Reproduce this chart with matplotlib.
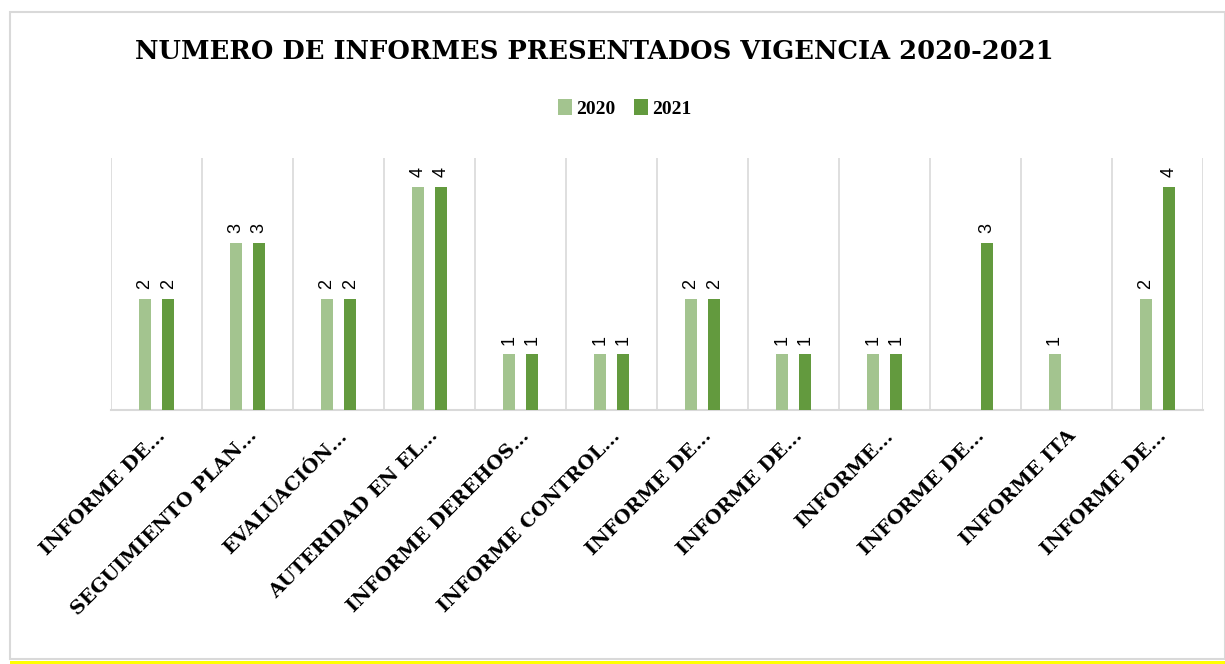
import numpy as np
import matplotlib.pyplot as plt
from matplotlib.patches import Rectangle

# categories (truncated as in the source chart)
categories = ["INFORME DE…", "SEGUIMIENTO PLAN…", "EVALUACIÓN…", "AUTERIDAD EN EL…",
              "INFORME DEREHOS…", "INFORME CONTROL…", "INFORME DE…", "INFORME DE…",
              "INFORME…", "INFORME DE…", "INFORME ITA", "INFORME DE…"]
v2020 = [2, 3, 2, 4, 1, 1, 2, 1, 1, None, 1, 2]
v2021 = [2, 3, 2, 4, 1, 1, 2, 1, 1, 3, None, 4]
series_names = ["2020", "2021"]
colors = ["#a3c48f", "#639a3e"]

fig = plt.figure(figsize=(12.25, 6.64), dpi=100)
ax = fig.add_axes([0.0906, 0.3825, 0.8914, 0.3795])

x = np.arange(len(categories))
w = 0.13
for vals, off, c, name in [(v2020, -0.13, colors[0], series_names[0]), (v2021, 0.13, colors[1], series_names[1])]:
    h = [0 if v is None else v for v in vals]
    bars = ax.bar(x + off, h, width=w, color=c, label=name, zorder=3)
    for b, v in zip(bars, vals):
        if v is None:
            continue
        ax.annotate(str(v), (b.get_x() + b.get_width() / 2, v), xytext=(0, 7),
                    textcoords="offset points", ha="center", va="bottom",
                    rotation=90, fontsize=13, family="Liberation Sans")

ax.set_xlim(-0.5, len(categories) - 0.5)
ax.set_ylim(0, 4.52)
ax.set_yticks([])
for b in np.arange(-0.5, len(categories), 1.0):
    ax.axvline(b, color="#d9d9d9", lw=1.2, zorder=1)
for s in ["top", "right", "left"]:
    ax.spines[s].set_visible(False)
ax.spines["bottom"].set_color("#d9d9d9")
ax.spines["bottom"].set_linewidth(1.5)

ax.set_xticks(x)
ax.set_xticklabels(categories, rotation=45, ha="right", rotation_mode="anchor",
                   fontsize=14, fontweight="bold", family="DejaVu Serif")
ax.tick_params(axis="x", length=0, pad=12)

fig.text(0.485, 0.923, "NUMERO DE INFORMES PRESENTADOS VIGENCIA 2020-2021",
         ha="center", va="center", fontsize=18.5, fontweight="bold", family="DejaVu Serif")
fig.legend(loc="center", bbox_to_anchor=(0.51, 0.837), ncol=2, frameon=False,
           prop={"family": "Liberation Serif", "weight": "bold", "size": 14},
           handlelength=0.7, handleheight=0.9, handletextpad=0.2, columnspacing=1.0)

# outer frame and yellow strip at the bottom
fig.patches.append(Rectangle((10 / 1225, 5 / 664), 1 - 10 / 1225, 647 / 664, transform=fig.transFigure,
                             fill=False, edgecolor="#d9d9d9", lw=1.5))
fig.patches.append(Rectangle((10 / 1225, 0), 1, 3.5 / 664, transform=fig.transFigure,
                             color="#ffff00", lw=0))

fig.savefig("out.png", dpi=100)
